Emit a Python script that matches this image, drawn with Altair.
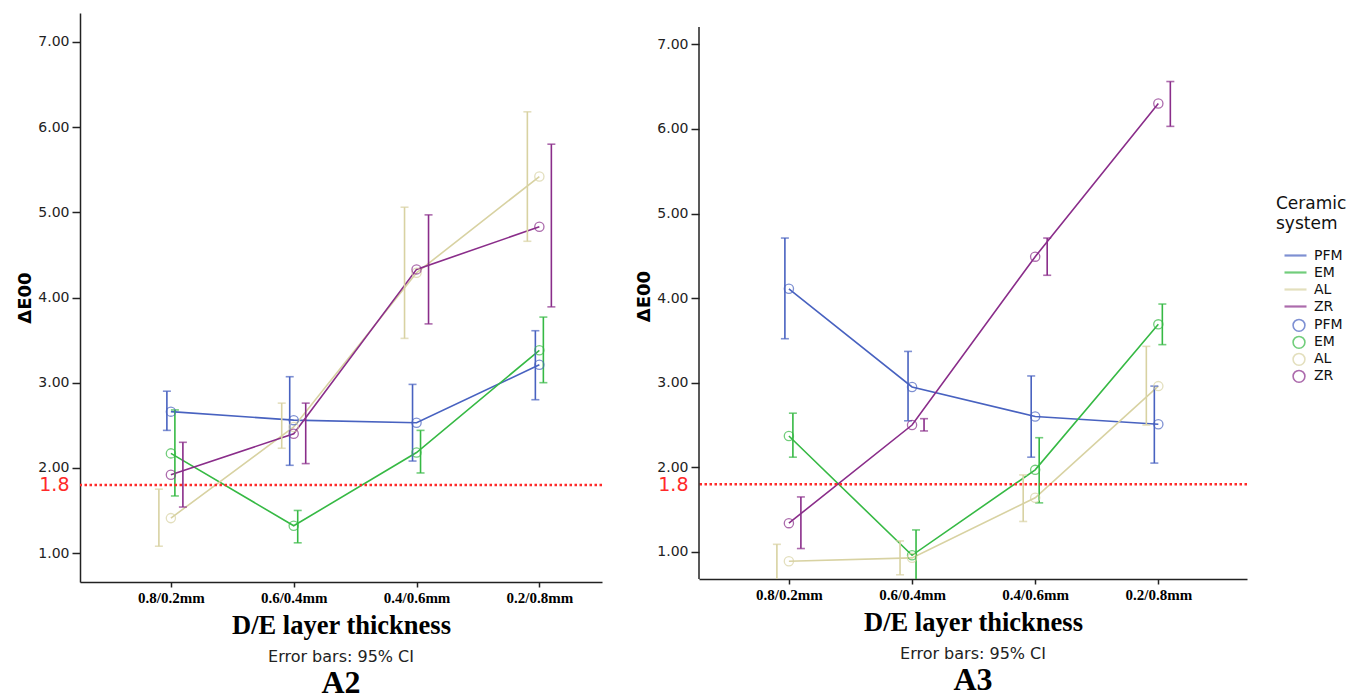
import json
import altair as alt
import pandas as pd

CATEGORIES = ["0.8/0.2mm", "0.6/0.4mm", "0.4/0.6mm", "0.2/0.8mm"]
SERIES = ["PFM", "EM", "AL", "ZR"]
COLORS = ["#4862c0", "#36b944", "#d8d2a2", "#8a2d8a"]

# Panel A2 : means and 95% CI limits
A2_PFM = [2.66, 2.56, 2.53, 3.21]
A2_PFM_LO = [2.44, 2.03, 2.08, 2.80]
A2_PFM_HI = [2.90, 3.07, 2.98, 3.61]
A2_EM = [2.17, 1.32, 2.18, 3.38]
A2_EM_LO = [1.67, 1.12, 1.94, 3.00]
A2_EM_HI = [2.68, 1.50, 2.44, 3.77]
A2_AL = [1.41, 2.48, 4.29, 5.42]
A2_AL_LO = [1.08, 2.23, 3.52, 4.66]
A2_AL_HI = [1.75, 2.76, 5.06, 6.18]
A2_ZR = [1.92, 2.40, 4.33, 4.83]
A2_ZR_LO = [1.54, 2.05, 3.69, 3.89]
A2_ZR_HI = [2.30, 2.76, 4.97, 5.80]

# Panel A3 : means and 95% CI limits
A3_PFM = [4.11, 2.95, 2.60, 2.51]
A3_PFM_LO = [3.52, 2.55, 2.12, 2.05]
A3_PFM_HI = [4.71, 3.37, 3.08, 2.96]
A3_EM = [2.37, 0.96, 1.97, 3.69]
A3_EM_LO = [2.12, 0.60, 1.58, 3.45]
A3_EM_HI = [2.64, 1.26, 2.35, 3.93]
A3_AL = [0.89, 0.93, 1.64, 2.96]
A3_AL_LO = [0.65, 0.73, 1.36, 2.50]
A3_AL_HI = [1.09, 1.13, 1.91, 3.43]
A3_ZR = [1.34, 2.50, 4.49, 6.30]
A3_ZR_LO = [1.04, 2.43, 4.27, 6.03]
A3_ZR_HI = [1.65, 2.575, 4.71, 6.56]

THRESHOLD = [1.8]
Y_TICKS = [1, 2, 3, 4, 5, 6, 7]

# horizontal dodge of the error bars, in pixels
DODGE_PX = {"PFM": -4, "EM": 4, "AL": -12, "ZR": 12}


def build(means, los, his, px_per_unit):
    rows = []
    for s in SERIES:
        for i, c in enumerate(CATEGORIES):
            rows.append({
                "series": s, "series_pt": s, "cat": c, "idx": i,
                "mean": means[s][i], "lo": los[s][i], "hi": his[s][i],
                "xe": i + DODGE_PX[s] / px_per_unit,
            })
    return pd.DataFrame(rows)


color_scale = alt.Scale(domain=SERIES, range=COLORS)

line_legend = alt.Legend(
    title=["Ceramic", "system"], orient="none", legendX=1196, legendY=183,
    symbolType="stroke", symbolSize=484, symbolStrokeWidth=2.2,
    symbolOffset=7, clipHeight=17,
    titleFont="DejaVu Sans", titleFontSize=17, titleFontWeight="normal",
    titleColor="#111", titleLineHeight=20, titlePadding=14,
    labelFont="DejaVu Sans", labelFontSize=14, labelColor="#111",
    labelOffset=6, rowPadding=0,
)
point_legend = alt.Legend(
    title=None, orient="none", legendX=1212, legendY=304,
    symbolType="circle", symbolSize=140, symbolStrokeWidth=1.6,
    clipHeight=16.7,
    labelFont="DejaVu Sans", labelFontSize=14, labelColor="#111",
    labelOffset=8, rowPadding=0,
)

label_expr = json.dumps(CATEGORIES) + "[datum.value]"
y_label_expr = "datum.value == 1.8 ? '1.8' : format(datum.value, '.2f')"


def panel(df, width, height, xdom, ydom, name, axis_top=0):
    xs = alt.Scale(domain=xdom, nice=False, zero=False)
    ys = alt.Scale(domain=ydom, nice=False, zero=False)
    x_axis = alt.Axis(
        values=[0, 1, 2, 3], labelExpr=label_expr, grid=False,
        title="D/E layer thickness", titleFont="Liberation Serif",
        titleFontSize=26.5, titleFontWeight="bold", titleColor="black",
        titlePadding=7,
        labelFont="Liberation Serif", labelFontWeight="bold", labelFontSize=15,
        labelColor="black", labelPadding=3,
        tickSize=5, tickWidth=1.5, tickColor="#222",
        domainColor="#222", domainWidth=1.5,
    )
    y_axis = alt.Axis(
        values=Y_TICKS + THRESHOLD, labelExpr=y_label_expr, labelOverlap=False,
        grid=False, title="ΔE00", titleFont="DejaVu Sans", titleFontSize=18,
        titleFontWeight="bold", titleColor="black", titlePadding=3,
        labelFont="DejaVu Sans",
        labelFontSize={"condition": {"test": "datum.value == 1.8", "value": 19}, "value": 14},
        labelColor={"condition": {"test": "datum.value == 1.8", "value": "#ff2a2a"}, "value": "#222"},
        tickOpacity={"condition": {"test": "datum.value == 1.8", "value": 0}, "value": 1},
        labelPadding=3, tickSize=8, tickWidth=1.5, tickColor="#222",
        domain=(axis_top == 0), domainColor="#222", domainWidth=1.5,
    )
    base = alt.Chart(df)
    lines = base.mark_line(strokeWidth=1.6, clip=True).encode(
        x=alt.X("idx:Q", scale=xs, axis=x_axis),
        y=alt.Y("mean:Q", scale=ys, axis=y_axis),
        color=alt.Color("series:N", scale=color_scale, legend=line_legend),
        detail="series:N",
    )
    points = base.mark_point(shape="circle", filled=False, size=85,
                             strokeWidth=1.3, clip=True).encode(
        x=alt.X("idx:Q", scale=xs),
        y=alt.Y("mean:Q", scale=ys),
        stroke=alt.Stroke("series_pt:N", sort=SERIES,
                          scale=alt.Scale(range=COLORS), legend=point_legend),
    )
    bars = base.mark_rule(strokeWidth=1.6, clip=True).encode(
        x=alt.X("xe:Q", scale=xs),
        y=alt.Y("lo:Q", scale=ys),
        y2="hi:Q",
        color=alt.Color("series:N", scale=color_scale, legend=line_legend),
    )
    caps = base.transform_fold(["lo", "hi"], as_=["end", "v"]).mark_tick(
        orient="horizontal", size=8, thickness=1.6, clip=True).encode(
        x=alt.X("xe:Q", scale=xs),
        y=alt.Y("v:Q", scale=ys),
        color=alt.Color("series:N", scale=color_scale, legend=line_legend),
    )
    ref = alt.Chart(pd.DataFrame({"t": THRESHOLD})).mark_rule(
        color="#ff2a2a", strokeDash=[2.5, 2.5], strokeWidth=2.5).encode(
        y=alt.Y("t:Q", scale=ys))
    layers = [lines, bars, caps, points, ref]
    if axis_top:
        # y-axis line that starts below the top of the plot area
        yline = alt.Chart(pd.DataFrame({"k": [0]})).mark_rule(
            color="#222", strokeWidth=1.5).encode(
            x=alt.value(0), y=alt.value(axis_top), y2=alt.value(height))
        layers.append(yline)
    return alt.layer(*layers).properties(
        width=width, height=height,
        title=alt.TitleParams(
            text="Error bars: 95% CI", subtitle=name, orient="bottom",
            anchor="middle", frame="group", font="DejaVu Sans", fontSize=16,
            fontWeight="normal", color="#222", offset=10,
            subtitleFont="Liberation Serif", subtitleFontSize=32,
            subtitleFontWeight="bold", subtitleColor="black", subtitlePadding=3,
        ),
    )


LW, LH, LX, LY = 522, 569, [-0.74, 3.51], [0.66, 7.34]
RW, RH, RX, RY = 548, 566, [-0.73, 3.72], [0.68, 7.37]

df2 = build({"PFM": A2_PFM, "EM": A2_EM, "AL": A2_AL, "ZR": A2_ZR},
            {"PFM": A2_PFM_LO, "EM": A2_EM_LO, "AL": A2_AL_LO, "ZR": A2_ZR_LO},
            {"PFM": A2_PFM_HI, "EM": A2_EM_HI, "AL": A2_AL_HI, "ZR": A2_ZR_HI},
            LW / (LX[1] - LX[0]))
df3 = build({"PFM": A3_PFM, "EM": A3_EM, "AL": A3_AL, "ZR": A3_ZR},
            {"PFM": A3_PFM_LO, "EM": A3_EM_LO, "AL": A3_AL_LO, "ZR": A3_ZR_LO},
            {"PFM": A3_PFM_HI, "EM": A3_EM_HI, "AL": A3_AL_HI, "ZR": A3_ZR_HI},
            RW / (RX[1] - RX[0]))

left = panel(df2, LW, LH, LX, LY, "A2")
right = panel(df3, RW, RH, RX, RY, "A3", axis_top=14)

chart = alt.hconcat(left, right, spacing=31).properties(
    padding={"left": 8, "top": 5, "right": 0, "bottom": 0},
    background="white",
).configure_view(stroke=None)

chart.save("out.html", embed_options={"renderer": "svg", "actions": False})
